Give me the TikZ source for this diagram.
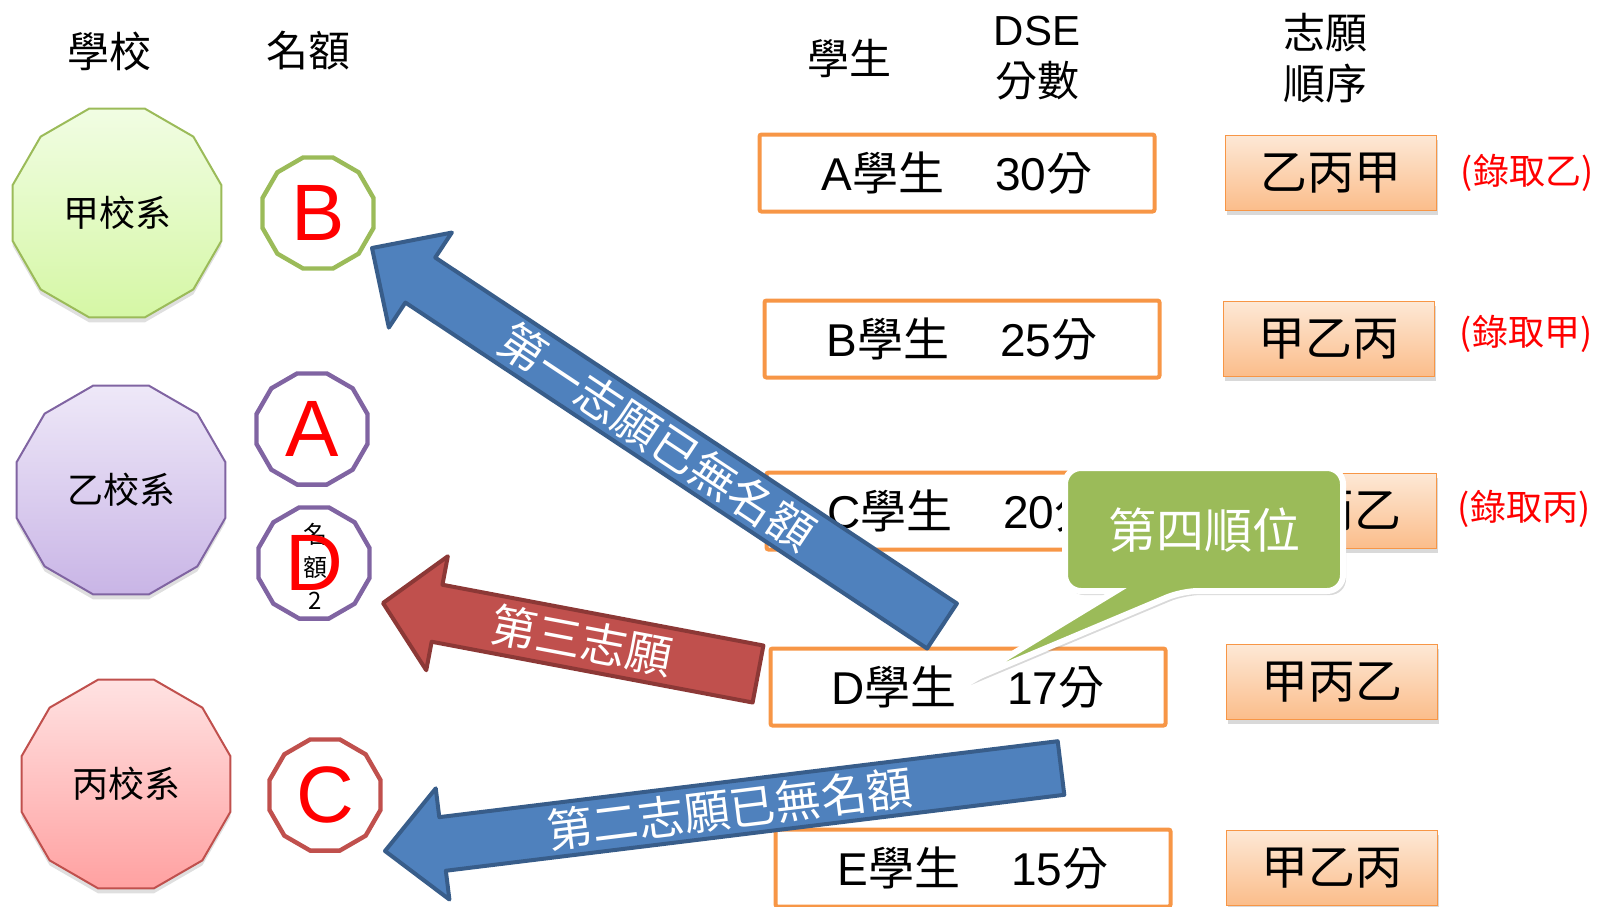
\documentclass[tikz,border=0pt]{standalone}
\usepackage{fontspec}
\setmainfont{Liberation Sans}
\newfontfamily\cjk{Noto Sans CJK TC}
\usepackage{xcolor}
\usetikzlibrary{shapes.geometric,shadows,calc}

\definecolor{olgreen}{HTML}{9BBB59}
\definecolor{olpurple}{HTML}{8064A2}
\definecolor{olred}{HTML}{C0504D}
\definecolor{olorange}{HTML}{F79646}
\definecolor{olblue}{HTML}{4F81BD}
\definecolor{olbluedk}{HTML}{385D8A}
\definecolor{olreddk}{HTML}{8C3836}
\definecolor{peachtop}{HTML}{FDE8D6}
\definecolor{peachbot}{HTML}{FBBD8A}

\begin{document}
\begin{tikzpicture}[x=0.5pt,y=-0.5pt,
  head/.style={font=\cjk\fontsize{21}{25.5}\selectfont, align=center},
  school/.style={regular polygon, regular polygon sides=12, minimum size=108pt, inner sep=0pt,
    line width=1pt, font=\cjk\fontsize{18}{18}\selectfont,
    drop shadow={opacity=0.25, shadow xshift=0pt, shadow yshift=-2.5pt}},
  quota/.style={regular polygon, regular polygon sides=12, minimum size=57.5pt, inner sep=0pt,
    line width=2.2pt, fill=white, text=red, font=\fontsize{40}{40}\selectfont},
  student/.style={draw=olorange, line width=2pt, fill=white, rounded corners=1pt,
    minimum width=197.5pt, minimum height=38.5pt, font=\fontsize{23}{23}\selectfont},
  choice/.style={draw=olorange, line width=0.8pt, top color=peachtop, bottom color=peachbot,
    minimum width=105.5pt, minimum height=37.5pt, font=\cjk\fontsize{23.5}{23.5}\selectfont,
    drop shadow={opacity=0.3, shadow xshift=0.5pt, shadow yshift=-2pt}},
  result/.style={text=red, font=\cjk\fontsize{18}{18}\selectfont},
  bluearrow/.style={fill=olblue, draw=olbluedk, line width=2pt, line join=round},
  redarrow/.style={fill=olred, draw=olreddk, line width=2pt, line join=round},
  arrowtext/.style={text=white, font=\cjk\fontsize{23}{23}\selectfont},
  ]
\useasboundingbox (0,0) rectangle (1598,906);

% column heads
\node[head] (hSchool) at (109,51) {學校};
\node[head] (hQuota) at (308,51) {名額};
\node[head] (hStudent) at (849,58) {學生};
\node[head] (hScore) at (1037,58) {{\rmfamily DSE}\\分數};
\node[head] (hOrder) at (1325,58) {志願\\順序};

% schools
\node[school, draw=olgreen, top color={rgb,255:red,241;green,253;blue,227}, bottom color={rgb,255:red,213;green,247;blue,165}] (schJia) at (117,213) {甲校系};
\node[school, draw=olpurple, top color={rgb,255:red,238;green,232;blue,248}, bottom color={rgb,255:red,201;green,181;blue,230}] (schYi) at (121,490) {乙校系};
\node[school, draw=olred, top color={rgb,255:red,255;green,226;blue,226}, bottom color={rgb,255:red,255;green,161;blue,161}] (schBing) at (126,784) {丙校系};

% quotas
\node[quota, draw=olgreen] (qB) at (318,213) {B};
\node[quota, draw=olpurple] (qA) at (312,429) {A};
\node[quota, draw=olpurple] (qD) at (314,563) {};
\node[font=\cjk\fontsize{12}{16.5}\selectfont, align=center] (qDnote) at (315,566) {名\\額\\2};
\node[text=red, font=\fontsize{40}{40}\selectfont] (qDl) at (qD) {D};
\node[quota, draw=olred] (qC) at (325,795) {C};

% students
\node[student] (stuA) at (957,173) {A{\cjk 學生}\hspace{1.1em}30{\cjk 分}};
\node[student] (stuB) at (962,339) {B{\cjk 學生}\hspace{1.1em}25{\cjk 分}};
\node[student] (stuC) at (964,511) {C{\cjk 學生}\hspace{1.1em}20{\cjk 分}};
\node[student] (stuD) at (968,687) {D{\cjk 學生}\hspace{1.1em}17{\cjk 分}};
\node[student] (stuE) at (973,868) {E{\cjk 學生}\hspace{1.1em}15{\cjk 分}};

% choices
\node[choice] (prefA) at (1331,173) {乙丙甲};
\node[choice] (prefB) at (1329,339) {甲乙丙};
\node[choice] (prefC) at (1331,511) {甲丙乙};
\node[choice] (prefD) at (1332,682) {甲丙乙};
\node[choice] (prefE) at (1332,868) {甲乙丙};

% results
\node[result] (resA) at (1527,173) {(錄取乙)};
\node[result] (resB) at (1526,334) {(錄取甲)};
\node[result] (resC) at (1524,509) {(錄取丙)};

% first choice: D -> B
\coordinate (a1T) at (942,626);
\coordinate (a1H) at (372,248);
\coordinate (a1N) at ($(a1H)!29pt!(a1T)$);
\filldraw[bluearrow] ($(a1T)!13.5pt!90:(a1H)$) -- ($(a1N)!13.5pt!90:(a1H)$) -- ($(a1N)!28.5pt!90:(a1H)$) -- (a1H)
  -- ($(a1N)!28.5pt!-90:(a1H)$) -- ($(a1N)!13.5pt!-90:(a1H)$) -- ($(a1T)!13.5pt!-90:(a1H)$) -- cycle;
\node[arrowtext, rotate=-33.6] (t1) at ($(a1T)!0.5!(a1H)$) {第一志願已無名額};

% second choice: D -> C
\coordinate (a2T) at (1061,768);
\coordinate (a2H) at (385,851);
\coordinate (a2N) at ($(a2H)!29pt!(a2T)$);
\filldraw[bluearrow] ($(a2T)!13.5pt!90:(a2H)$) -- ($(a2N)!13.5pt!90:(a2H)$) -- ($(a2N)!28pt!90:(a2H)$) -- (a2H)
  -- ($(a2N)!28pt!-90:(a2H)$) -- ($(a2N)!13.5pt!-90:(a2H)$) -- ($(a2T)!13.5pt!-90:(a2H)$) -- cycle;
\node[arrowtext, rotate=7] (t2) at ($(a2T)!0.49!(a2H)$) {第二志願已無名額};

% third choice: D -> D
\coordinate (a3T) at (758,674);
\coordinate (a3H) at (383,603);
\coordinate (a3N) at ($(a3H)!27.5pt!(a3T)$);
\filldraw[redarrow] ($(a3T)!14.5pt!90:(a3H)$) -- ($(a3N)!14.5pt!90:(a3H)$) -- ($(a3N)!29pt!90:(a3H)$) -- (a3H)
  -- ($(a3N)!29pt!-90:(a3H)$) -- ($(a3N)!14.5pt!-90:(a3H)$) -- ($(a3T)!14.5pt!-90:(a3H)$) -- cycle;
\node[arrowtext, rotate=-10.7] (t3) at ($(a3T)!0.47!(a3H)$) {第三志願};

% callout
\coordinate (tip4) at (968,681);
\filldraw[fill=olgreen, draw=white, line width=3pt, rounded corners=8pt,
  drop shadow={opacity=0.3, shadow xshift=1.5pt, shadow yshift=-2pt}]
  (1065,468) -- (1343,468) -- (1343,591) -- (1182,591) [sharp corners] -- (tip4) -- (1116,591)
  [rounded corners=8pt] -- (1065,591) -- cycle;
\node[text=white, font=\cjk\fontsize{24}{24}\selectfont] (rank4) at (1204,530) {第四順位};
\end{tikzpicture}
\end{document}
